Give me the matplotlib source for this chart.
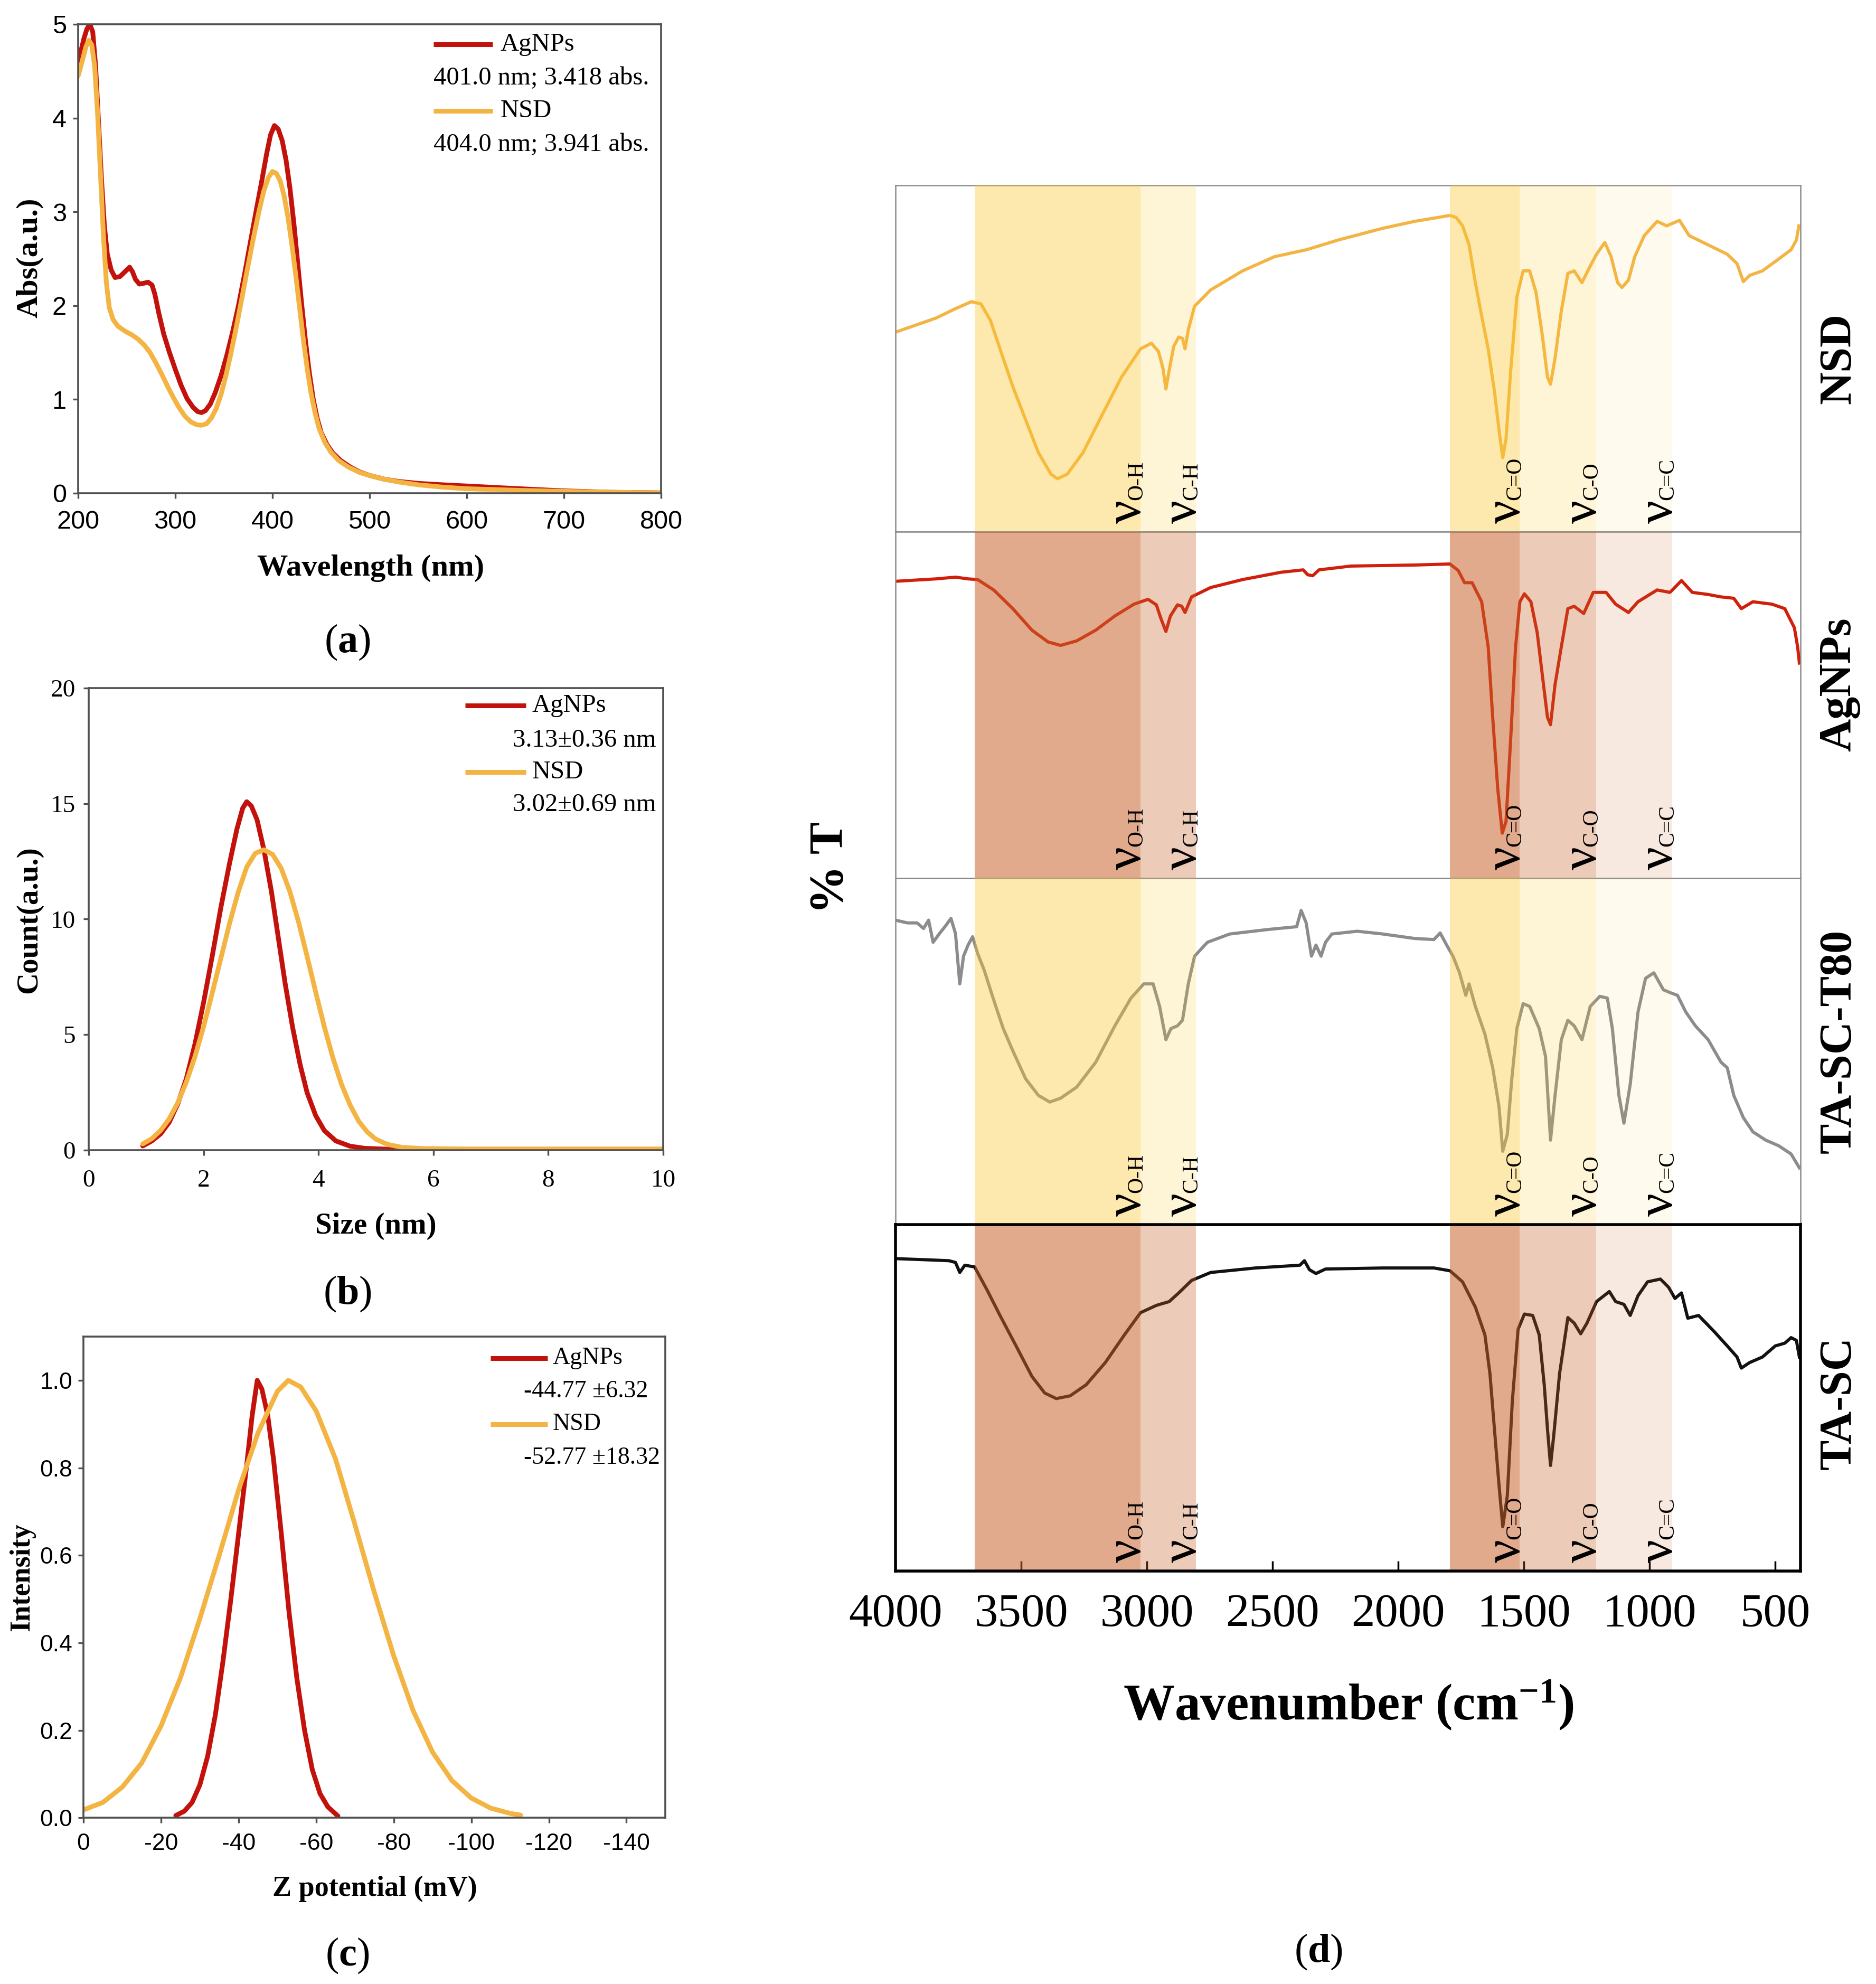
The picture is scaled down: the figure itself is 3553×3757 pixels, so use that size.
import matplotlib
matplotlib.use('Agg')
import matplotlib.pyplot as plt
from matplotlib.lines import Line2D
from matplotlib.ticker import MultipleLocator, FormatStrFormatter

SERIF = 'Liberation Serif'
SANS = 'Liberation Sans'
plt.rcParams['font.family'] = [SERIF, 'DejaVu Serif']
plt.rcParams['mathtext.fontset'] = 'custom'
plt.rcParams['mathtext.rm'] = SERIF
plt.rcParams['mathtext.bf'] = SERIF + ':bold'
plt.rcParams['mathtext.it'] = SERIF + ':italic'
plt.rcParams['axes.unicode_minus'] = False

# ---------------- data: (a) UV-Vis ----------------
uv_wl_ag = [200, 203, 206, 209, 212, 215, 218, 221, 224, 227, 230, 234, 238, 243, 248, 253, 256, 259, 263,
            268, 272, 276, 279, 283, 288, 294, 300, 306, 312, 318, 323, 327, 331, 336, 341, 347, 353, 359,
            365, 371, 377, 383, 389, 394, 398, 402, 406, 410, 414, 418, 422, 426, 430, 434, 438, 442, 446,
            450, 456, 462, 470, 480, 490, 500, 515, 530, 550, 575, 600, 650, 700, 750, 800]
uv_abs_ag = [4.585, 4.72, 4.85, 4.95, 5.0, 4.92, 4.55, 3.95, 3.35, 2.85, 2.55, 2.38, 2.30, 2.31, 2.36, 2.41,
             2.36, 2.28, 2.23, 2.24, 2.25, 2.22, 2.12, 1.92, 1.70, 1.50, 1.32, 1.15, 1.01, 0.92, 0.87, 0.86,
             0.88, 0.95, 1.07, 1.25, 1.47, 1.72, 2.00, 2.32, 2.66, 3.00, 3.33, 3.62, 3.82, 3.92, 3.88, 3.76,
             3.55, 3.25, 2.88, 2.45, 2.02, 1.62, 1.28, 1.00, 0.80, 0.65, 0.52, 0.43, 0.35, 0.28, 0.225, 0.19,
             0.15, 0.125, 0.105, 0.09, 0.077, 0.05, 0.025, 0.01, 0.004]
uv_wl_nsd = [200, 204, 208, 211, 214, 217, 220, 223, 226, 229, 232, 236, 241, 248, 255, 262, 268, 274, 280,
             286, 292, 298, 304, 310, 316, 322, 327, 332, 337, 342, 347, 352, 357, 362, 368, 374, 380, 386,
             391, 396, 400, 404, 408, 412, 416, 420, 424, 428, 432, 436, 440, 444, 448, 454, 460, 468, 478,
             490, 500, 515, 530, 550, 575, 600, 650, 700, 750, 800]
uv_abs_nsd = [4.45, 4.60, 4.76, 4.83, 4.78, 4.55, 4.05, 3.40, 2.75, 2.25, 1.98, 1.85, 1.78, 1.73, 1.69, 1.64,
              1.58, 1.50, 1.39, 1.27, 1.14, 1.02, 0.91, 0.82, 0.76, 0.73, 0.725, 0.74, 0.80, 0.90, 1.05,
              1.25, 1.48, 1.73, 2.05, 2.38, 2.70, 3.00, 3.22, 3.37, 3.43, 3.41, 3.33, 3.17, 2.94, 2.65, 2.32,
              1.97, 1.62, 1.31, 1.05, 0.85, 0.69, 0.54, 0.44, 0.35, 0.28, 0.22, 0.19, 0.15, 0.12, 0.09,
              0.065, 0.048, 0.032, 0.02, 0.01, 0.004]
uv_leg_names = ['AgNPs', 'NSD']
uv_leg_vals = ['401.0 nm; 3.418 abs.', '404.0 nm; 3.941 abs.']

# ---------------- data: (b) size distribution ----------------
size_ag = [0.94, 1.10, 1.25, 1.40, 1.55, 1.70, 1.85, 2.00, 2.15, 2.30, 2.45, 2.58, 2.68, 2.75, 2.83, 2.93,
           3.05, 3.18, 3.30, 3.42, 3.55, 3.68, 3.80, 3.95, 4.10, 4.30, 4.55, 4.80, 5.20, 6.00, 10.0]
count_ag = [0.18, 0.40, 0.70, 1.20, 2.00, 3.10, 4.60, 6.40, 8.40, 10.50, 12.40, 13.90, 14.80, 15.08, 14.90,
            14.30, 13.00, 11.20, 9.20, 7.20, 5.30, 3.70, 2.50, 1.50, 0.85, 0.40, 0.17, 0.08, 0.04, 0.03, 0.03]
size_nsd = [0.94, 1.10, 1.25, 1.40, 1.55, 1.70, 1.85, 2.00, 2.15, 2.30, 2.45, 2.60, 2.75, 2.90, 3.05, 3.20,
            3.35, 3.50, 3.65, 3.80, 3.95, 4.10, 4.25, 4.40, 4.55, 4.70, 4.85, 5.00, 5.20, 5.45, 5.80, 6.50,
            10.0]
count_nsd = [0.27, 0.50, 0.85, 1.35, 2.05, 2.95, 4.05, 5.35, 6.80, 8.30, 9.80, 11.15, 12.25, 12.85, 13.0,
             12.80, 12.20, 11.20, 9.90, 8.40, 6.85, 5.35, 4.00, 2.85, 1.95, 1.25, 0.78, 0.47, 0.25, 0.12,
             0.07, 0.05, 0.05]
size_leg_vals = ['3.13\u00b10.36 nm', '3.02\u00b10.69 nm']

# ---------------- data: (c) zeta potential ----------------
zeta_ag = [-23.8, -26, -28, -30, -32, -34, -36, -38, -40, -42, -43.5, -44.8, -46, -47.5, -49, -51, -53, -55,
           -57, -59, -61, -63, -65.6]
inten_ag = [0.005, 0.015, 0.035, 0.075, 0.14, 0.235, 0.36, 0.50, 0.65, 0.80, 0.92, 1.0, 0.98, 0.92, 0.82,
            0.65, 0.47, 0.32, 0.20, 0.11, 0.055, 0.025, 0.004]
zeta_nsd = [0, -5, -10, -15, -20, -25, -30, -35, -40, -45, -50, -52.8, -56, -60, -65, -70, -75, -80, -85,
            -90, -95, -100, -105, -110, -112.7]
inten_nsd = [0.018, 0.035, 0.07, 0.125, 0.21, 0.32, 0.455, 0.60, 0.75, 0.88, 0.975, 1.0, 0.985, 0.93, 0.82,
             0.67, 0.515, 0.37, 0.245, 0.15, 0.085, 0.045, 0.022, 0.01, 0.006]
zeta_leg_vals = ['-44.77 \u00b16.32', '-52.77 \u00b118.32']

# ---------------- data: (d) FTIR (relative transmittance per sample) ----------------
wn_nsd = [4000, 3838, 3761, 3698, 3660, 3622, 3584, 3533, 3482, 3431, 3381, 3355, 3317, 3254, 3178, 3101,
          3025, 2982, 2954, 2936, 2924, 2911, 2893, 2873, 2858, 2848, 2835, 2810, 2746, 2619, 2492, 2365,
          2239, 2061, 1934, 1794, 1769, 1744, 1718, 1693, 1668, 1642, 1617, 1597, 1584, 1571, 1553, 1528,
          1503, 1477, 1452, 1427, 1406, 1394, 1376, 1351, 1325, 1300, 1269, 1236, 1211, 1178, 1153, 1127,
          1110, 1084, 1059, 1021, 970, 932, 881, 843, 767, 691, 652, 627, 602, 551, 487, 437, 416, 406]
t_nsd = [0.576, 0.617, 0.644, 0.664, 0.658, 0.610, 0.528, 0.419, 0.323, 0.228, 0.166, 0.153, 0.166, 0.228,
         0.337, 0.446, 0.528, 0.544, 0.521, 0.473, 0.412, 0.466, 0.535, 0.562, 0.558, 0.528, 0.583, 0.651,
         0.698, 0.753, 0.794, 0.814, 0.842, 0.876, 0.896, 0.913, 0.907, 0.883, 0.828, 0.719, 0.623, 0.528,
         0.405, 0.282, 0.214, 0.268, 0.460, 0.678, 0.753, 0.753, 0.692, 0.569, 0.446, 0.426, 0.501, 0.637,
         0.746, 0.753, 0.719, 0.767, 0.801, 0.835, 0.794, 0.719, 0.705, 0.726, 0.794, 0.855, 0.896, 0.883,
         0.899, 0.855, 0.828, 0.801, 0.774, 0.722, 0.740, 0.753, 0.787, 0.814, 0.842, 0.883]

wn_ag = [4000, 3838, 3761, 3711, 3673, 3609, 3533, 3457, 3393, 3343, 3279, 3203, 3127, 3051, 2995, 2962,
         2944, 2924, 2906, 2878, 2861, 2848, 2822, 2746, 2619, 2467, 2378, 2360, 2340, 2315, 2188, 1934,
         1794, 1761, 1736, 1706, 1668, 1642, 1624, 1604, 1586, 1571, 1553, 1533, 1516, 1498, 1472, 1447,
         1422, 1406, 1394, 1376, 1351, 1325, 1300, 1262, 1224, 1173, 1135, 1084, 1046, 970, 919, 873, 830,
         767, 716, 665, 635, 589, 513, 462, 424, 411, 404]
t_ag = [0.857, 0.864, 0.869, 0.864, 0.862, 0.832, 0.778, 0.716, 0.682, 0.672, 0.685, 0.716, 0.757, 0.791,
        0.805, 0.789, 0.750, 0.712, 0.757, 0.789, 0.785, 0.767, 0.812, 0.839, 0.862, 0.883, 0.890, 0.876,
        0.873, 0.890, 0.901, 0.904, 0.907, 0.888, 0.853, 0.853, 0.798, 0.668, 0.464, 0.259, 0.130, 0.164,
        0.396, 0.668, 0.798, 0.821, 0.798, 0.709, 0.559, 0.464, 0.443, 0.559, 0.668, 0.778, 0.785, 0.764,
        0.825, 0.825, 0.791, 0.767, 0.798, 0.832, 0.825, 0.859, 0.825, 0.819, 0.812, 0.808, 0.778, 0.798,
        0.791, 0.778, 0.723, 0.668, 0.621]

wn_t80 = [4000, 3952, 3914, 3888, 3868, 3850, 3825, 3800, 3779, 3761, 3744, 3729, 3711, 3693, 3673, 3647,
          3622, 3597, 3571, 3533, 3482, 3431, 3386, 3343, 3279, 3203, 3127, 3063, 3012, 2975, 2949, 2924,
          2904, 2878, 2858, 2835, 2810, 2759, 2670, 2518, 2404, 2386, 2366, 2345, 2327, 2307, 2289, 2264,
          2163, 2061, 1934, 1858, 1833, 1807, 1782, 1756, 1731, 1718, 1693, 1655, 1624, 1599, 1584, 1566,
          1548, 1528, 1503, 1477, 1439, 1414, 1394, 1376, 1351, 1325, 1300, 1269, 1236, 1198, 1168, 1148,
          1122, 1102, 1077, 1046, 1016, 983, 945, 919, 889, 856, 818, 767, 716, 691, 665, 627, 589, 538,
          487, 437, 404]
t_t80 = [0.879, 0.871, 0.871, 0.855, 0.879, 0.815, 0.840, 0.863, 0.884, 0.840, 0.695, 0.775, 0.807, 0.831,
         0.783, 0.735, 0.678, 0.622, 0.566, 0.502, 0.421, 0.373, 0.354, 0.365, 0.397, 0.469, 0.574, 0.654,
         0.695, 0.695, 0.630, 0.534, 0.566, 0.574, 0.590, 0.695, 0.775, 0.815, 0.839, 0.852, 0.860, 0.907,
         0.871, 0.775, 0.807, 0.775, 0.815, 0.839, 0.847, 0.839, 0.826, 0.823, 0.842, 0.807, 0.775, 0.727,
         0.662, 0.695, 0.630, 0.550, 0.453, 0.341, 0.212, 0.260, 0.421, 0.566, 0.638, 0.630, 0.566, 0.486,
         0.244, 0.373, 0.534, 0.590, 0.574, 0.534, 0.630, 0.659, 0.654, 0.566, 0.373, 0.293, 0.405, 0.614,
         0.711, 0.727, 0.678, 0.670, 0.662, 0.614, 0.574, 0.534, 0.469, 0.453, 0.373, 0.309, 0.268, 0.244,
         0.228, 0.204, 0.164]

wn_tasc = [4000, 3888, 3787, 3761, 3744, 3724, 3685, 3635, 3584, 3520, 3457, 3406, 3360, 3305, 3241, 3165,
           3089, 3025, 2962, 2911, 2873, 2822, 2746, 2568, 2391, 2373, 2353, 2327, 2289, 2061, 1858, 1794,
           1744, 1693, 1655, 1635, 1617, 1599, 1584, 1566, 1546, 1523, 1498, 1465, 1439, 1419, 1406, 1394,
           1381, 1358, 1325, 1300, 1274, 1249, 1211, 1160, 1135, 1102, 1077, 1046, 1008, 957, 924, 899, 873,
           848, 805, 741, 691, 652, 635, 602, 551, 500, 462, 437, 416, 404]
t_tasc = [0.902, 0.899, 0.896, 0.891, 0.862, 0.883, 0.878, 0.811, 0.738, 0.650, 0.562, 0.514, 0.498, 0.506,
          0.538, 0.602, 0.682, 0.746, 0.767, 0.778, 0.803, 0.839, 0.862, 0.875, 0.883, 0.896, 0.870, 0.859,
          0.872, 0.875, 0.875, 0.867, 0.835, 0.762, 0.682, 0.570, 0.409, 0.249, 0.128, 0.217, 0.490, 0.698,
          0.742, 0.738, 0.682, 0.538, 0.409, 0.305, 0.393, 0.570, 0.732, 0.716, 0.685, 0.716, 0.778, 0.807,
          0.778, 0.770, 0.738, 0.795, 0.835, 0.843, 0.819, 0.787, 0.803, 0.730, 0.738, 0.690, 0.650, 0.618,
          0.586, 0.602, 0.618, 0.650, 0.658, 0.674, 0.666, 0.618]

ftir_names = ['NSD', 'AgNPs', 'TA-SC-T80', 'TA-SC']
band_hi = [3685, 3025, 1794, 1518, 1213]
band_lo = [3025, 2805, 1518, 1213, 911]
band_names = ['O-H', 'C-H', 'C=O', 'C-O', 'C=C']
wn_ticks = [4000, 3500, 3000, 2500, 2000, 1500, 1000, 500]

# ---------------- styles ----------------
RED = '#C3120C'
ORANGE = '#F4B444'
SPINE = '#505050'
LW_SMALL = 6.5

fig = plt.figure(figsize=(35.53, 37.57), dpi=100)


def style_small(ax, tickfont, size, xpad, ypad):
    for s in ax.spines.values():
        s.set_color(SPINE)
        s.set_linewidth(2.6)
    ax.tick_params(axis='both', direction='out', length=7, width=2.4, color=SPINE,
                   labelsize=size, labelfontfamily=tickfont, top=False, right=False)
    ax.tick_params(axis='x', pad=xpad)
    ax.tick_params(axis='y', pad=ypad)


def small_legend(ax, hx0, hx1, ys_line, xname, xval, ys_val, names, vals, size):
    for (c, n, v, yl, yv) in zip([RED, ORANGE], names, vals, ys_line, ys_val):
        ax.add_line(Line2D([hx0, hx1], [yl, yl], transform=ax.transAxes, color=c, lw=LW_SMALL,
                           solid_capstyle='butt', clip_on=False))
        ax.text(xname, yl, n, transform=ax.transAxes, ha='left', va='center',
                fontsize=size, family=SERIF)
        ax.text(xval, yv, v, transform=ax.transAxes, ha='left', va='center',
                fontsize=size, family=SERIF)


# ---------------- (a) ----------------
axA = fig.add_axes([0.04166, 0.7514, 0.3524 - 0.04166, 0.98776 - 0.7514])
axA.plot(uv_wl_ag, uv_abs_ag, color=RED, lw=LW_SMALL, solid_joinstyle='round', solid_capstyle='round')
axA.plot(uv_wl_nsd, uv_abs_nsd, color=ORANGE, lw=LW_SMALL, solid_joinstyle='round', solid_capstyle='round')
axA.set_xlim(200, 800)
axA.set_ylim(0, 5)
axA.xaxis.set_major_locator(MultipleLocator(100))
axA.yaxis.set_major_locator(MultipleLocator(1))
style_small(axA, SANS, 35, 16, 9)
small_legend(axA, 0.61, 0.711, [0.957, 0.815], 0.724, 0.61, [0.885, 0.743],
             uv_leg_names, uv_leg_vals, 35)

# ---------------- (b) ----------------
axB = fig.add_axes([0.0473, 0.4203, 0.3535 - 0.0473, 0.6532 - 0.4203])
axB.plot(size_ag, count_ag, color=RED, lw=LW_SMALL, solid_joinstyle='round', solid_capstyle='round')
axB.plot(size_nsd, count_nsd, color=ORANGE, lw=LW_SMALL, solid_joinstyle='round', solid_capstyle='round')
axB.set_xlim(0, 10)
axB.set_ylim(0, 20)
axB.xaxis.set_major_locator(MultipleLocator(2))
axB.yaxis.set_major_locator(MultipleLocator(5))
style_small(axB, SERIF, 34, 19, 11)
small_legend(axB, 0.655, 0.761, [0.962, 0.818], 0.772, 0.738, [0.887, 0.747],
             uv_leg_names, size_leg_vals, 35)

# ---------------- (c) ----------------
axC = fig.add_axes([0.0445, 0.0838, 0.3546 - 0.0445, 0.3263 - 0.0838])
axC.plot(zeta_ag, inten_ag, color=RED, lw=LW_SMALL, solid_joinstyle='round', solid_capstyle='round')
axC.plot(zeta_nsd, inten_nsd, color=ORANGE, lw=LW_SMALL, solid_joinstyle='round', solid_capstyle='round')
axC.set_xlim(0, -150)
axC.set_ylim(0, 1.1)
axC.xaxis.set_major_locator(MultipleLocator(20))
axC.yaxis.set_major_locator(MultipleLocator(0.2))
axC.yaxis.set_major_formatter(FormatStrFormatter('%.1f'))
style_small(axC, SANS, 32, 14, 8)
small_legend(axC, 0.70, 0.798, [0.955, 0.818], 0.806, 0.757, [0.886, 0.748],
             uv_leg_names, zeta_leg_vals, 33)

# axis labels / panel labels for a-c
fig.text(0.0158, 0.8701, 'Abs(a.u.)', rotation=90, ha='center', va='center', fontsize=42, fontweight='bold')
fig.text(0.1976, 0.7136, 'Wavelength (nm)', ha='center', va='center', fontsize=42, fontweight='bold')
fig.text(0.1852, 0.6763, r'($\mathbf{a}$)', ha='center', va='center', fontsize=55)
fig.text(0.0155, 0.5363, 'Count(a.u.)', rotation=90, ha='center', va='center', fontsize=41, fontweight='bold')
fig.text(0.2004, 0.3820, 'Size (nm)', ha='center', va='center', fontsize=41, fontweight='bold')
fig.text(0.1852, 0.3479, r'($\mathbf{b}$)', ha='center', va='center', fontsize=55)
fig.text(0.0118, 0.2050, 'Intensity', rotation=90, ha='center', va='center', fontsize=39, fontweight='bold')
fig.text(0.1998, 0.0479, 'Z potential (mV)', ha='center', va='center', fontsize=39, fontweight='bold')
fig.text(0.1852, 0.0144, r'($\mathbf{c}$)', ha='center', va='center', fontsize=55)

# ---------------- (d) FTIR ----------------
d_left, d_right, d_top, d_bottom = 0.4773, 0.9597, 0.9066, 0.2081
h = (d_top - d_bottom) / 4.0
ftir_wn = [wn_nsd, wn_ag, wn_t80, wn_tasc]
ftir_t = [t_nsd, t_ag, t_t80, t_tasc]
line_colors = ['#F4B444', '#D0200C', '#8C8C8C', '#111111']
yellow_band = ('#FAC832', [0.40, 0.20, 0.40, 0.20, 0.08])
brown_band = ('#C85F28', [0.53, 0.32, 0.53, 0.32, 0.14])
band_styles = [yellow_band, brown_band, yellow_band, brown_band]
label_y = [0.8193, 0.6550, 0.4751, 0.2928]

for i in range(4):
    ax = fig.add_axes([d_left, d_top - (i + 1) * h, d_right - d_left, h])
    ax.plot(ftir_wn[i], ftir_t[i], color=line_colors[i], lw=4.3, solid_joinstyle='round', zorder=2)
    bc, alphas = band_styles[i]
    for hi, lo, a in zip(band_hi, band_lo, alphas):
        ax.axvspan(lo, hi, color=bc, alpha=a, lw=0, zorder=3)
    ax.set_xlim(4000, 400)
    ax.set_ylim(0, 1)
    ax.set_yticks([])
    trans = ax.get_xaxis_transform()
    for lo, nm in zip(band_lo, band_names):
        nu = ax.text(lo, 0.025, '\u03bd', transform=trans, rotation=90, rotation_mode='anchor',
                     ha='left', va='baseline', fontsize=70, zorder=5)
        ax.annotate(nm, xy=(lo, 1.0), xycoords=('data', nu), xytext=(2, 0),
                    textcoords='offset points', rotation=90, rotation_mode='anchor',
                    ha='left', va='baseline', fontsize=30, zorder=5)
    if i < 3:
        for s in ax.spines.values():
            s.set_color('#8A8A8A')
            s.set_linewidth(1.8)
        ax.tick_params(axis='x', bottom=False, labelbottom=False)
    else:
        for s in ax.spines.values():
            s.set_color('black')
            s.set_linewidth(4.0)
            s.set_zorder(6)
        ax.set_xticks(wn_ticks)
        ax.tick_params(axis='x', direction='in', length=14, width=2.5, color='black',
                       labelsize=64, pad=30)
    fig.text(0.9806, label_y[i], ftir_names[i], rotation=90, ha='center', va='center',
             fontsize=62, fontweight='bold')

fig.text(0.4430, 0.5627, '% T', rotation=90, ha='center', va='center', fontsize=66, fontweight='bold')
fig.text(0.7188, 0.1408, r'Wavenumber (cm$^{\mathbf{-1}}$)', ha='center', va='center',
         fontsize=70, fontweight='bold')
fig.text(0.7028, 0.0162, r'($\mathbf{d}$)', ha='center', va='center', fontsize=55)

fig.savefig('out.png', dpi=100)
